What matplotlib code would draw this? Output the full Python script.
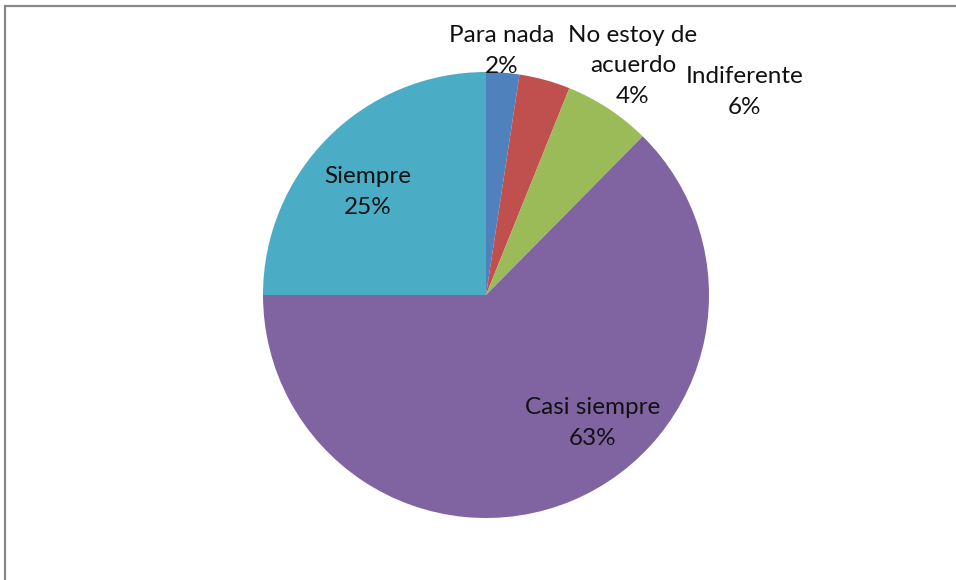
import matplotlib
matplotlib.use("Agg")
import matplotlib.pyplot as plt
from matplotlib.patches import Rectangle

categories = ["Para nada", "No estoy de\nacuerdo", "Indiferente", "Casi siempre", "Siempre"]
values = [2.4, 3.7, 6.3, 62.6, 25.0]
colors = ["#4F81BD", "#C0504D", "#9BBB59", "#8064A2", "#4BACC6"]
# label centres in pie-radius units
label_pos = [(0.072, 1.094), (0.659, 1.027), (1.161, 0.910), (0.480, -0.574), (-0.529, 0.462)]

W, H = 956, 580
cx, cy, R = 486, 295, 223

fig = plt.figure(figsize=(W / 100, H / 100), dpi=100)
ax = fig.add_axes([0, 0, 1, 1])
ax.pie(values, colors=colors, startangle=90, counterclock=False,
       radius=1, center=(0, 0), wedgeprops=dict(linewidth=0))
ax.set_xlim(-cx / R, (W - cx) / R)
ax.set_ylim(-(H - cy) / R, cy / R)
ax.set_aspect("auto")
ax.axis("off")

total = sum(values)
for cat, v, (x, y) in zip(categories, values, label_pos):
    ax.text(x, y, f"{cat}\n{v / total * 100:.0f}%", ha="center", va="center",
            fontsize=17.5, family=["Lato", "DejaVu Sans"], color="#111111",
            linespacing=1.55)

fig.patches.append(Rectangle((5 / W, -0.1), 1.2, (H - 6) / H + 0.1,
                             transform=fig.transFigure, fill=False,
                             edgecolor="#888888", linewidth=1.6))

fig.savefig("out.png", dpi=100)
